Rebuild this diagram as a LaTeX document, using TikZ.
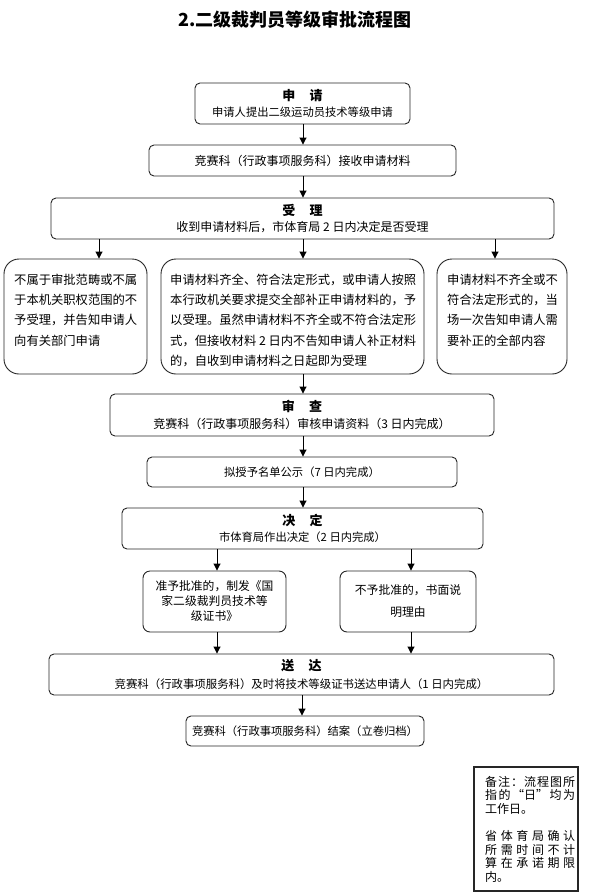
\documentclass[tikz,border=0pt]{standalone}
\usepackage{fontspec}
\setmainfont{Noto Sans CJK SC}
\usetikzlibrary{arrows.meta}
\newcommand{\boxhead}[1]{{\fontsize{13}{13}\selectfont\bfseries #1}}
\newcommand{\jl}[1]{\makebox[90pt][s]{#1}}
\begin{document}
\begin{tikzpicture}[x=1pt,y=-1pt,
  box/.style={draw=black!85, line width=0.9pt, rounded corners=5pt, inner sep=0pt, align=center},
  rowbox/.style={draw=black!85, line width=0.9pt, rounded corners=15pt, inner sep=0pt},
  dbox/.style={draw=black!85, line width=0.9pt, rounded corners=7pt, inner sep=0pt, align=center},
  rowtext/.style={anchor=north west, inner sep=0pt, align=left, font=\fontsize{12.3}{20.3}\selectfont},
  arr/.style={draw=black, line width=0.9pt, -{Triangle[length=7pt,width=7pt]}},
  f12/.style={font=\fontsize{12}{16.5}\selectfont},
  f11/.style={font=\fontsize{11.3}{16.5}\selectfont}]
\fill[white] (0,0) rectangle (590,894);
\useasboundingbox (0,0) rectangle (590,894);

\node[font=\fontsize{18}{18}\selectfont\bfseries] (title) at (295,20) {2.二级裁判员等级审批流程图};

\node[box, f11, minimum width=215, minimum height=41] (b1) at (302.5,103.5)
  {\boxhead{申\hspace{1.1em}请}\\申请人提出二级运动员技术等级申请};
\node[box, f12, minimum width=307, minimum height=31] (b2) at (302.5,160.5)
  {竞赛科（行政事项服务科）接收申请材料};
\node[box, f12, minimum width=503, minimum height=41] (b3) at (302.5,218.5)
  {\boxhead{受\hspace{1.1em}理}\\收到申请材料后，市体育局 2 日内决定是否受理};

\node[rowbox, minimum width=143, minimum height=115] (ra) at (75.5,316.5) {};
\node[rowbox, minimum width=263, minimum height=115] (rb) at (292.5,316.5) {};
\node[rowbox, minimum width=130, minimum height=115] (rc) at (502,316.5) {};
\node[rowtext] (rat) at (14,273.5) {不属于审批范畴或不属\\于本机关职权范围的不\\予受理，并告知申请人\\向有关部门申请};
\node[rowtext] (rbt) at (170,273.5) {申请材料齐全、符合法定形式，或申请人按照\\本行政机关要求提交全部补正申请材料的，予\\以受理。虽然申请材料不齐全或不符合法定形\\式，但接收材料 2 日内不告知申请人补正材料\\的，自收到申请材料之日起即为受理};
\node[rowtext] (rct) at (447,273.5) {申请材料不齐全或不\\符合法定形式的，当\\场一次告知申请人需\\要补正的全部内容};

\node[box, f12, minimum width=384, minimum height=42] (b4) at (302,415)
  {\boxhead{审\hspace{1.1em}查}\\竞赛科（行政事项服务科）审核申请资料（3 日内完成）};
\node[box, f11, minimum width=310, minimum height=30] (b5) at (302,472)
  {拟授予名单公示（7 日内完成）};
\node[box, f11, minimum width=361, minimum height=41] (b6) at (302.5,528.5)
  {\boxhead{决\hspace{1.1em}定}\\市体育局作出决定（2 日内完成）};

\node[dbox, font=\fontsize{11.8}{15}\selectfont, minimum width=143, minimum height=61] (da) at (214.5,601.5)
  {准予批准的，制发《国\\家二级裁判员技术等\\级证书》};
\node[dbox, font=\fontsize{11.8}{22}\selectfont, minimum width=136, minimum height=61] (db) at (408,601.5)
  {不予批准的，书面说\\明理由};

\node[box, font=\fontsize{11.4}{18}\selectfont, minimum width=505, minimum height=41] (b7) at (301.5,674.5)
  {\boxhead{送\hspace{1.1em}达}\\竞赛科（行政事项服务科）及时将技术等级证书送达申请人（1 日内完成）};
\node[box, f11, minimum width=238, minimum height=30] (b8) at (305,731)
  {竞赛科（行政事项服务科）结案（立卷归档）};

\node[draw=black!85, line width=1.2pt, minimum width=104, minimum height=124, inner sep=0pt] (note) at (526,829) {};
\node[anchor=north west, inner sep=0pt, align=left, font=\fontsize{12}{13.6}\selectfont] (notet) at (485,776)
  {\jl{备\hfill 注\hfill ：\hfill 流\hfill 程\hfill 图\hfill 所}\\
   \jl{指\hfill 的\hfill “日”\hfill 均\hfill 为}\\
   工作日。\\[13.6pt]
   \jl{省\hfill 体\hfill 育\hfill 局\hfill 确\hfill 认}\\
   \jl{所\hfill 需\hfill 时\hfill 间\hfill 不\hfill 计}\\
   \jl{算\hfill 在\hfill 承\hfill 诺\hfill 期\hfill 限}\\
   内。};

\coordinate (xl) at (99,0);
\coordinate (xm) at (303,0);
\coordinate (xr) at (495,0);
\coordinate (dl) at (217,0);
\coordinate (dr) at (411,0);
\coordinate (xe) at (302,0);

\draw[arr] (b1.south -| xm) -- (b2.north -| xm);
\draw[arr] (b2.south -| xm) -- (b3.north -| xm);
\draw[arr] (b3.south -| xl) -- (ra.north -| xl);
\draw[arr] (b3.south -| xm) -- (rb.north -| xm);
\draw[arr] (b3.south -| xr) -- (rc.north -| xr);
\draw[arr] (rb.south -| xm) -- (b4.north -| xm);
\draw[arr] (b4.south -| xm) -- (b5.north -| xm);
\draw[arr] (b5.south -| xm) -- (b6.north -| xm);
\draw[arr] (b6.south -| dl) -- (da.north -| dl);
\draw[arr] (b6.south -| dr) -- (db.north -| dr);
\draw[arr] (da.south -| dl) -- (b7.north -| dl);
\draw[arr] (db.south -| dr) -- (b7.north -| dr);
\draw[arr] (b7.south -| xe) -- (b8.north -| xe);
\end{tikzpicture}
\end{document}
